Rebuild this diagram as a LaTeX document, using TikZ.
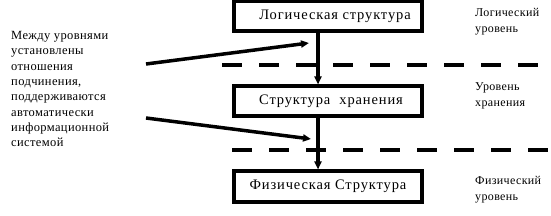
\documentclass[tikz,border=0pt]{standalone}
\usepackage{fontspec}
\setmainfont{Liberation Serif}
\newfontfamily\boxfont[LetterSpace=6]{Liberation Serif}
\newfontfamily\sidefont[LetterSpace=3]{Liberation Serif}
\usetikzlibrary{arrows.meta}
\begin{document}
\begin{tikzpicture}[x=1pt,y=-1pt,
  levelbox/.style={draw,line width=4pt,minimum width=188pt,minimum height=30pt,inner sep=0pt,font=\boxfont\fontsize{14.5}{16}\selectfont},
  sidetext/.style={anchor=base west,align=left,inner sep=0pt,font=\sidefont\fontsize{12}{16}\selectfont},
  conn/.style={line width=3.5pt,-{Triangle[length=8pt,width=7pt]}},
  sep/.style={line width=4pt,dash pattern=on 20pt off 17pt}]
\useasboundingbox (0,0) rectangle (551,216);
\node[levelbox] (log) at (328,16.5) {\hspace*{14pt}Логическая структура};
\node[levelbox] (stor) at (328,101.5) {\hspace*{6pt}Структура\ \ хранения};
\node[levelbox] (phys) at (328,186.5) {Физическая Структура};
\coordinate (vx) at (318,0);
\coordinate (d1a) at (222,65);
\coordinate (d1b) at (540,65);
\coordinate (d2a) at (232,150);
\coordinate (d2b) at (549,150);
\draw[sep] (d1a) -- (d1b);
\draw[sep] (d2a) -- (d2b);
\draw[conn] (log.south -| vx) -- (stor.north -| vx);
\draw[conn] (stor.south -| vx) -- (phys.north -| vx);
\coordinate (a1s) at (146,64);
\coordinate (a1e) at (309,43);
\coordinate (a2s) at (146,118);
\coordinate (a2e) at (311,139);
\draw[conn] (a1s) -- (a1e);
\draw[conn] (a2s) -- (a2e);
\node[sidetext,font=\sidefont\fontsize{12.5}{15.3}\selectfont] (note) at (11,146.7) {Между уровнями\\установлены\\отношения\\подчинения,\\поддерживаются\\автоматически\\информационной\\системой};
\node[sidetext] (lvl1) at (475,33) {Логический\\уровень};
\node[sidetext] (lvl2) at (475,106.7) {Уровень\\хранения};
\node[sidetext] (lvl3) at (475,200.5) {Физический\\уровень};
\end{tikzpicture}
\end{document}
